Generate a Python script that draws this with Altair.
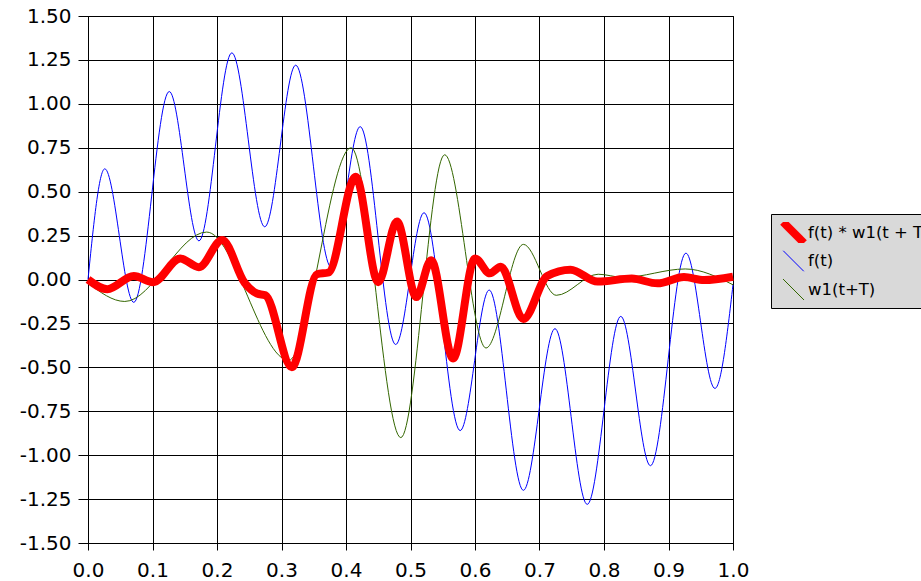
import altair as alt
import pandas as pd

# f(t) * w1(t + T)  (red, thick)
red_t = [0.0, 0.03, 0.071, 0.101, 0.143, 0.172, 0.208, 0.243, 0.262, 0.275, 0.316,
         0.355, 0.373, 0.415, 0.450, 0.479, 0.509, 0.532, 0.566, 0.600, 0.623, 0.640,
         0.675, 0.712, 0.748, 0.790, 0.843, 0.883, 0.924, 0.955, 1.0]
red_v = [0.0, -0.055, 0.02, -0.015, 0.12, 0.07, 0.225, -0.02, -0.08, -0.09, -0.50,
         0.03, 0.04, 0.585, -0.015, 0.33, -0.10, 0.11, -0.45, 0.12, 0.035, 0.072,
         -0.225, 0.02, 0.056, -0.012, 0.005, -0.022, 0.014, -0.003, 0.016]

# f(t)  (blue)
blue_t = [0.0, 0.026, 0.071, 0.126, 0.172, 0.223, 0.274, 0.322, 0.377, 0.422, 0.477,
          0.521, 0.577, 0.622, 0.675, 0.724, 0.774, 0.826, 0.872, 0.927, 0.972, 1.0]
blue_v = [0.0, 0.63, -0.13, 1.07, 0.22, 1.29, 0.30, 1.22, 0.07, 0.87, -0.37,
          0.38, -0.86, -0.06, -1.20, -0.28, -1.28, -0.21, -1.06, 0.15, -0.62, -0.03]

# w1(t+T)  (green)
green_t = [0.0, 0.057, 0.184, 0.311, 0.408, 0.485, 0.553, 0.617, 0.675, 0.726,
           0.791, 0.83, 0.926, 1.0]
green_v = [-0.02, -0.125, 0.27, -0.46, 0.75, -0.90, 0.71, -0.39, 0.20, -0.09,
           0.03, 0.012, 0.06, -0.03]

series_names = ["f(t) * w1(t + T)", "f(t)", "w1(t+T)"]
series_colors = ["#ff0000", "#0000ff", "#336600"]
series_widths = [8, 1, 1]

x_ticks = [0.0, 0.1, 0.2, 0.3, 0.4, 0.5, 0.6, 0.7, 0.8, 0.9, 1.0]
y_ticks = [-1.5, -1.25, -1.0, -0.75, -0.5, -0.25, 0.0, 0.25, 0.5, 0.75, 1.0, 1.25, 1.5]

rows = []
for name, ts, vs in [(series_names[1], blue_t, blue_v),
                     (series_names[2], green_t, green_v),
                     (series_names[0], red_t, red_v)]:
    for t, v in zip(ts, vs):
        rows.append({"t": t, "v": v, "series": name})
df = pd.DataFrame(rows)

FONT = "DejaVu Sans"

base = alt.Chart(df).mark_line(interpolate="monotone").encode(
    x=alt.X("t:Q",
            scale=alt.Scale(domain=[0, 1], nice=False, zero=False),
            axis=alt.Axis(title=None, values=x_ticks, format=".1f",
                          labelFont=FONT, labelFontSize=20, labelColor="black",
                          tickSize=7, tickColor="black", labelPadding=10,
                          domainColor="black", gridColor="black", gridOpacity=1,
                          labelFlush=False)),
    y=alt.Y("v:Q",
            scale=alt.Scale(domain=[-1.5, 1.5], nice=False, zero=False),
            axis=alt.Axis(title=None, values=y_ticks,
                          labelExpr="replace(format(datum.value, '.2f'), '\u2212', '-')",
                          labelFont=FONT, labelFontSize=20, labelColor="black",
                          tickSize=10, tickColor="black", labelPadding=7,
                          domainColor="black", gridColor="black", gridOpacity=1,
                          labelFlush=False)),
    color=alt.Color("series:N",
                    scale=alt.Scale(domain=series_names, range=series_colors),
                    legend=alt.Legend(title=None)),
    strokeWidth=alt.StrokeWidth("series:N",
                                scale=alt.Scale(type="ordinal", domain=series_names,
                                                range=series_widths),
                                legend=alt.Legend(title=None)),
)

layers = [base.transform_filter(alt.datum.series == s) for s in
          [series_names[1], series_names[2], series_names[0]]]

chart = alt.layer(*layers).properties(
    width=645,
    height=527,
    padding={"left": 88, "top": 16, "right": 188, "bottom": 38},
    autosize=alt.AutoSizeParams(type="none"),
    background="white",
).configure_view(
    stroke="black", strokeWidth=1
).configure_legend(
    orient="none",
    legendX=683,
    legendY=198,
    fillColor="#d9d9d9",
    strokeColor="black",
    padding=8,
    symbolType="M-1,-1L1,1",
    symbolSize=441,
    clipHeight=21,
    labelFont=FONT,
    labelFontSize=16.5,
    labelColor="black",
    labelOffset=0,
    rowPadding=7.5,
    labelLimit=300,
)

chart.save("out.html", embed_options={"renderer": "svg", "actions": False})
